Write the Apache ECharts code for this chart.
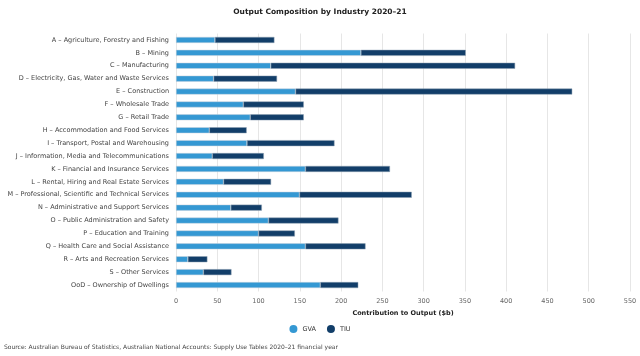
<!DOCTYPE html>
<html><head><meta charset="utf-8">
<script src="https://cdn.jsdelivr.net/npm/echarts@6/dist/echarts.min.js"></script>
<style>html,body{margin:0;padding:0;background:#fff}#c{width:640px;height:356px}</style>
</head><body><div id="c"></div>
<script>
const categories = [
 "A – Agriculture, Forestry and Fishing",
 "B – Mining",
 "C – Manufacturing",
 "D – Electricity, Gas, Water and Waste Services",
 "E – Construction",
 "F – Wholesale Trade",
 "G – Retail Trade",
 "H – Accommodation and Food Services",
 "I – Transport, Postal and Warehousing",
 "J – Information, Media and Telecommunications",
 "K – Financial and Insurance Services",
 "L – Rental, Hiring and Real Estate Services",
 "M – Professional, Scientific and Technical Services",
 "N – Administrative and Support Services",
 "O – Public Administration and Safety",
 "P – Education and Training",
 "Q – Health Care and Social Assistance",
 "R – Arts and Recreation Services",
 "S – Other Services",
 "OoD – Ownership of Dwellings"
];
const gva = [47.2, 224, 114.8, 45.6, 144.8, 81.6, 90, 40.4, 86, 44, 156.8, 57.6, 149.6, 66.4, 112, 100, 156.8, 14.4, 33.2, 174.8];
const tiu = [72, 127, 296, 76.8, 335.2, 73.2, 64.8, 45.2, 106, 62.4, 102.4, 57.6, 136, 37.6, 84.8, 44, 72.8, 23.6, 34, 46];
const xTicks = [0, 50, 100, 150, 200, 250, 300, 350, 400, 450, 500, 550];

const FONT = "DejaVu Sans";
const chart = echarts.init(document.getElementById('c'), null, {renderer: 'canvas'});
chart.setOption({
  animation: false,
  textStyle: {fontFamily: FONT},
  title: {
    text: "Output Composition by Industry 2020–21",
    left: 'center', top: 3,
    textStyle: {fontSize: 7.5, fontWeight: 'bold', color: '#222', fontFamily: FONT}
  },
  legend: {
    bottom: 18, left: 'center',
    icon: 'circle', itemWidth: 8, itemHeight: 8, itemGap: 11,
    itemStyle: {borderWidth: 0},
    textStyle: {fontSize: 6.5, color: '#333', fontFamily: FONT},
    data: ['GVA', 'TIU']
  },
  graphic: [{
    type: 'text', left: 4, bottom: 6,
    style: {text: "Source: Australian Bureau of Statistics, Australian National Accounts: Supply Use Tables 2020–21 financial year",
      fontSize: 6, fill: '#444', fontFamily: FONT}
  }],
  grid: {left: 176, right: 10, top: 33.5, bottom: 64.5, containLabel: false},
  xAxis: {
    type: 'value', min: 0, max: 550, interval: 50,
    name: 'Contribution to Output ($b)', nameLocation: 'middle', nameGap: 15,
    nameTextStyle: {fontSize: 6.5, fontWeight: 'bold', color: '#222', fontFamily: FONT},
    axisLabel: {fontSize: 6.5, color: '#666', margin: 6, fontFamily: FONT, formatter: v => xTicks.includes(v) ? String(v) : ''},
    axisLine: {show: false}, axisTick: {show: false},
    splitLine: {show: true, lineStyle: {color: '#e6e6e6', width: 1}}
  },
  yAxis: {
    type: 'category', data: categories, inverse: true,
    axisLabel: {fontSize: 6.5, color: '#444', margin: 7, fontFamily: FONT},
    axisLine: {show: false}, axisTick: {show: false}, splitLine: {show: false}
  },
  series: [
    {name: 'GVA', type: 'bar', stack: 't', data: gva, barWidth: 6,
     itemStyle: {color: '#3498d3', borderColor: '#c8d3dc', borderWidth: 0.5}},
    {name: 'TIU', type: 'bar', stack: 't', data: tiu, barWidth: 6,
     itemStyle: {color: '#123e69', borderColor: '#8fa0b2', borderWidth: 0.5}}
  ]
});
</script></body></html>
